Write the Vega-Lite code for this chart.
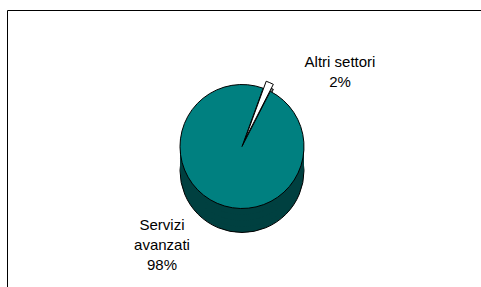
{
  "$schema": "https://vega.github.io/schema/vega-lite/v6.json",
  "width": 474,
  "height": 277,
  "autosize": {"type": "none"},
  "padding": {"left": 7, "top": 10, "right": 0, "bottom": 0},
  "background": "white",
  "view": {"stroke": "black", "strokeWidth": 1, "fill": "white"},
  "data": {
    "values": [
      {"settore": "Altri settori", "quota": 2, "etichetta": "Altri settori\n2%", "ordine": 1},
      {"settore": "Servizi avanzati", "quota": 98, "etichetta": "Servizi\navanzati\n98%", "ordine": 2}
    ]
  },
  "transform": [
    {"stack": "quota", "groupby": [], "sort": [{"field": "ordine"}], "as": ["t0", "t1"]}
  ],
  "layer": [
    {
      "transform": [{"filter": "datum.settore === 'Servizi avanzati'"}],
      "mark": {"type": "arc", "radius": 62, "xOffset": -2, "yOffset": 22, "fill": "#004040", "stroke": "black", "strokeWidth": 1},
      "encoding": {}
    },
    {
      "transform": [{"filter": "datum.settore === 'Servizi avanzati'"}],
      "mark": {"type": "arc", "radius": 62, "xOffset": -2, "yOffset": 16, "fill": "#004040"},
      "encoding": {}
    },
    {
      "transform": [{"filter": "datum.settore === 'Servizi avanzati'"}],
      "mark": {"type": "arc", "radius": 62, "xOffset": -2, "yOffset": 10, "fill": "#004040"},
      "encoding": {}
    },
    {
      "transform": [{"filter": "datum.settore === 'Servizi avanzati'"}],
      "mark": {"type": "arc", "radius": 62, "xOffset": -2, "yOffset": 4, "fill": "#004040"},
      "encoding": {}
    },
    {
      "transform": [{"filter": "datum.settore === 'Altri settori'"}],
      "mark": {"type": "arc", "radius": 62, "xOffset": 1, "yOffset": -4, "fill": "#808080", "stroke": "black", "strokeWidth": 1},
      "encoding": {
        "theta": {"field": "t0", "type": "quantitative", "scale": {"domain": [0, 100], "range": [0.349, 6.632]}},
        "theta2": {"field": "t1"}
      }
    },
    {
      "transform": [{"filter": "datum.settore === 'Servizi avanzati'"}],
      "mark": {"type": "arc", "radius": 62, "xOffset": -2, "yOffset": -2, "stroke": "black", "strokeWidth": 1},
      "encoding": {
        "theta": {"field": "t0", "type": "quantitative", "scale": {"domain": [0, 100], "range": [0.349, 6.632]}},
        "theta2": {"field": "t1"},
        "color": {"field": "settore", "type": "nominal", "scale": {"domain": ["Servizi avanzati", "Altri settori"], "range": ["#008080", "#FFFFFF"]}, "legend": null}
      }
    },
    {
      "transform": [{"filter": "datum.settore === 'Altri settori'"}],
      "mark": {"type": "arc", "radius": 62, "xOffset": 1, "yOffset": -9, "stroke": "black", "strokeWidth": 1},
      "encoding": {
        "theta": {"field": "t0", "type": "quantitative", "scale": {"domain": [0, 100], "range": [0.349, 6.632]}},
        "theta2": {"field": "t1"},
        "color": {"field": "settore", "type": "nominal", "scale": {"domain": ["Servizi avanzati", "Altri settori"], "range": ["#008080", "#FFFFFF"]}, "legend": null}
      }
    },
    {
      "transform": [{"filter": "datum.settore === 'Altri settori'"}],
      "mark": {"type": "text", "dx": 96, "dy": -81.5, "align": "center", "baseline": "alphabetic", "font": "Liberation Sans", "fontSize": 15, "lineHeight": 20, "lineBreak": "\n", "color": "black"},
      "encoding": {"text": {"field": "etichetta"}}
    },
    {
      "transform": [{"filter": "datum.settore === 'Servizi avanzati'"}],
      "mark": {"type": "text", "dx": -82, "dy": 81.5, "align": "center", "baseline": "alphabetic", "font": "Liberation Sans", "fontSize": 15, "lineHeight": 20, "lineBreak": "\n", "color": "black"},
      "encoding": {"text": {"field": "etichetta"}}
    }
  ]
}
